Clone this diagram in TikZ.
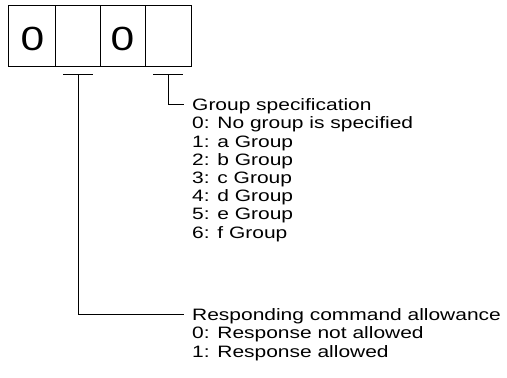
\documentclass[tikz,border=0pt]{standalone}
\usepackage{fontspec}
\setmainfont{Liberation Sans}[FakeStretch=1.27]
\begin{document}
\begin{tikzpicture}[x=1pt,y=-1pt,
  cell/.style={draw,line width=1pt,minimum height=61pt,inner sep=0pt},
  digit/.style={anchor=base,inner sep=0pt,font=\fontsize{33.5}{36}\selectfont},
  txt/.style={anchor=base west,inner sep=0pt,font=\fontsize{16.5}{18.2}\selectfont},
  wire/.style={line width=1pt}]
\useasboundingbox (0,0) rectangle (507,378);
% cells
\node[cell,minimum width=47pt] (c1) at (31.5,35.5) {};
\node[cell,minimum width=45pt] (c2) at (77.5,35.5) {};
\node[cell,minimum width=45pt] (c3) at (122.5,35.5) {};
\node[cell,minimum width=46pt] (c4) at (168,35.5) {};
\node[digit] (d1) at (32.5,50) {0};
\node[digit] (d3) at (122.5,50) {0};
% group specification text
\node[txt] (g0) at (192,110.7) {Group specification};
\node[txt] (g1) at (192,128.9) {0: No group is specified};
\node[txt] (g2) at (192,147.1) {1: a Group};
\node[txt] (g3) at (192,165.3) {2: b Group};
\node[txt] (g4) at (192,183.5) {3: c Group};
\node[txt] (g5) at (192,201.7) {4: d Group};
\node[txt] (g6) at (192,219.9) {5: e Group};
\node[txt] (g7) at (192,238.1) {6: f Group};
% responding text
\node[txt] (r0) at (192,320.7) {Responding command allowance};
\node[txt] (r1) at (192,338.9) {0: Response not allowed};
\node[txt] (r2) at (192,357.1) {1: Response allowed};
% brackets
\coordinate (b1l) at (63,74);
\coordinate (b1r) at (93,74);
\coordinate (b1m) at (78,74);
\coordinate (b2l) at (153,74);
\coordinate (b2r) at (183,74);
\coordinate (b2m) at (168,74);
\coordinate (e1) at (184,314.5);
\coordinate (e2) at (184,104.3);
\draw[wire] (b1l) -- (b1r);
\draw[wire] (b2l) -- (b2r);
\draw[wire] (b1m) |- (e1);
\draw[wire] (b2m) |- (e2);
\end{tikzpicture}
\end{document}
